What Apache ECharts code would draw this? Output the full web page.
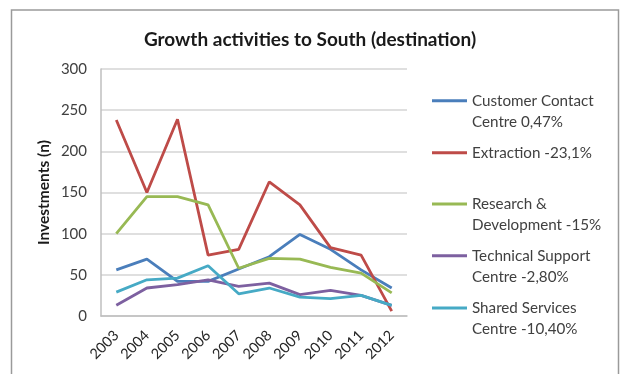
<!DOCTYPE html>
<html>
<head>
<meta charset="utf-8">
<script src="https://cdn.jsdelivr.net/npm/echarts@6/dist/echarts.min.js"></script>
<style>
  html, body { margin: 0; padding: 0; background: #fff; }
  #chart { width: 620px; height: 374px; }
</style>
</head>
<body>
<div id="chart"></div>
<script>
// Investments per year, by activity type
const years = ['2003', '2004', '2005', '2006', '2007', '2008', '2009', '2010', '2011', '2012'];
const seriesNames = [
  'Customer Contact\nCentre 0,47%',
  'Extraction -23,1%',
  'Research &\nDevelopment -15%',
  'Technical Support\nCentre -2,80%',
  'Shared Services\nCentre -10,40%'
];
const customerContact = [56, 69, 42, 42, 57, 72, 99, 81, 56, 34];
const extraction = [238, 150, 239, 74, 81, 163, 135, 83, 74, 6];
const researchDev = [100, 145, 145, 135, 58, 70, 69, 59, 52, 28];
const technicalSupport = [13, 34, 38, 44, 36, 40, 26, 31, 25, 13];
const sharedServices = [29, 44, 46, 61, 27, 34, 23, 21, 25, 13];
const yTicks = { min: 0, max: 300, interval: 50 };

const seriesValues = [customerContact, extraction, researchDev, technicalSupport, sharedServices];
const colors = ['#4A7EBB', '#BE4B48', '#98B954', '#7D60A0', '#46AAC5'];

const FONT = 'Lato, "Open Sans", sans-serif';
const LH = 21.5;
// vertical centre of each legend key (first text line)
const legendKeys = [100.7, 152.7, 204, 255.7, 308];

const legends = seriesNames.map((name, i) => {
  const twoLines = name.indexOf('\n') >= 0;
  return {
    orient: 'vertical',
    left: 432,
    top: twoLines ? legendKeys[i] - 1.5 * LH : legendKeys[i] - LH / 2,
    icon: 'rect',
    itemWidth: 35,
    itemHeight: 3,
    itemGap: 0,
    padding: 0,
    selectedMode: false,
    data: [{ name: name }],
    // two-line names get an empty leading line so the key sits beside the first line
    formatter: n => (n.indexOf('\n') >= 0 ? ' \n' + n : n),
    textStyle: {
      fontFamily: FONT,
      fontSize: 15.2,
      color: '#404040',
      lineHeight: LH
    }
  };
});

const chart = echarts.init(document.getElementById('chart'), null, { renderer: 'canvas' });
chart.setOption({
  animation: false,
  backgroundColor: '#ffffff',
  title: {
    text: 'Growth activities to South (destination)',
    left: 'center',
    top: 25,
    padding: [5, 12, 5, 0],
    textStyle: { fontFamily: FONT, fontSize: 19, fontWeight: 'bold', color: '#1a1a1a' }
  },
  graphic: [{
    type: 'rect',
    shape: { x: 11.5, y: 10, width: 607, height: 400 },
    style: { fill: 'none', stroke: '#9a9a9a', lineWidth: 1.5 },
    silent: true
  }],
  legend: legends,
  grid: { left: 101, right: 213, top: 69, bottom: 58 },
  xAxis: {
    type: 'category',
    data: years,
    boundaryGap: true,
    axisLine: { lineStyle: { color: '#bfbfbf', width: 1.5 } },
    axisTick: { show: false },
    axisLabel: {
      rotate: 45,
      margin: 17,
      interval: 0,
      fontFamily: FONT,
      fontSize: 14.5,
      color: '#262626'
    }
  },
  yAxis: {
    type: 'value',
    min: yTicks.min,
    max: yTicks.max,
    interval: yTicks.interval,
    name: 'Investments (n)',
    nameLocation: 'middle',
    nameGap: 49,
    nameTextStyle: { fontFamily: FONT, fontSize: 15.5, fontWeight: 'bold', color: '#1a1a1a' },
    axisLine: { show: true, lineStyle: { color: '#bfbfbf', width: 1.5 } },
    axisTick: { show: false },
    axisLabel: { fontFamily: FONT, fontSize: 15, color: '#404040', margin: 14 },
    splitLine: { lineStyle: { color: '#d4d4d4', width: 1.5 } }
  },
  series: seriesNames.map((name, i) => ({
    name: name,
    type: 'line',
    data: seriesValues[i],
    symbol: 'none',
    color: colors[i],
    lineStyle: { width: 2.8, color: colors[i] },
    z: 2 + i
  }))
});
</script>
</body>
</html>
